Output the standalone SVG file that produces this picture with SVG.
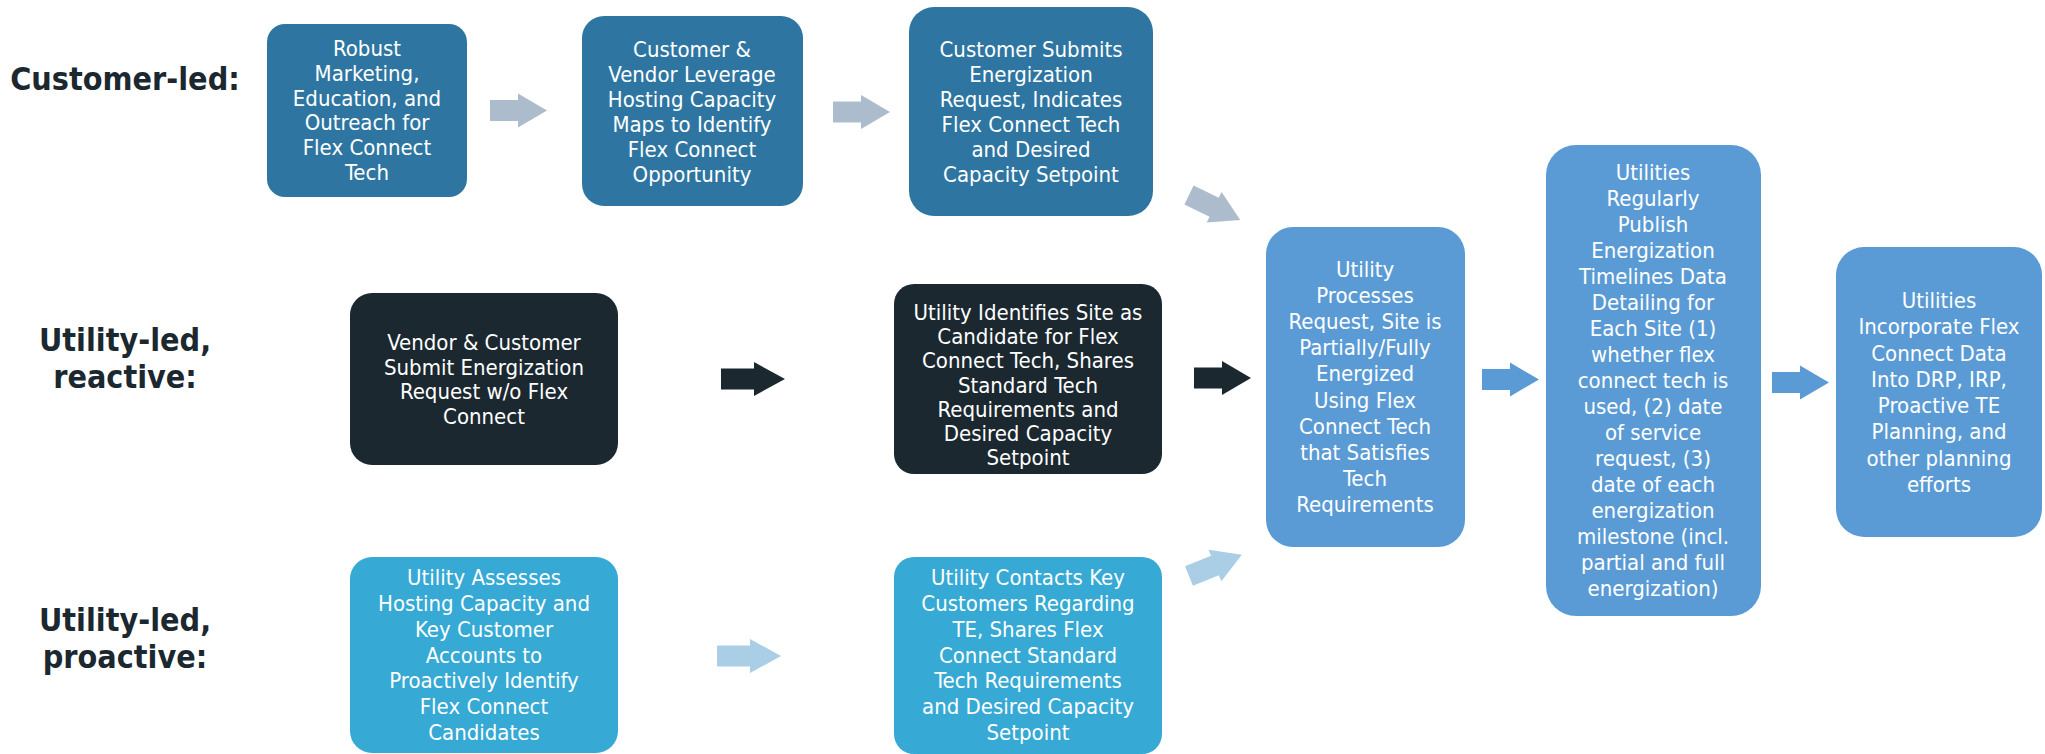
<svg xmlns="http://www.w3.org/2000/svg" width="2045" height="754" viewBox="0 0 2045 754">
<defs>
<style>
.t{font-family:"DejaVu Sans Condensed","DejaVu Sans",sans-serif;font-stretch:condensed;font-size:22px;fill:#ffffff;text-anchor:middle}
.lbl{font-family:"DejaVu Sans Condensed","DejaVu Sans",sans-serif;font-stretch:condensed;font-weight:bold;font-size:32px;fill:#1b2830;text-anchor:middle}
.c1{fill:#2e76a1}
.c2{fill:#5b9bd5}
.c3{fill:#1b2830}
.c4{fill:#36a9d5}
.ag{fill:#acbccd}
.al{fill:#a9cee6}
.ad{fill:#1b2830}
.ab{fill:#5b9bd5}
</style>
<path id="arr" d="M0,-10.5 H28 V-17 L57,0 L28,17 V10.5 H0 Z"/>
<path id="arrL" d="M0,-10.5 H33 V-17 L64,0 L33,17 V10.5 H0 Z"/>
</defs>
<g id="labels">
<text class="lbl" x="125" y="90">Customer-led:</text>
<text class="lbl" x="125" y="351">Utility-led,</text>
<text class="lbl" x="125" y="388">reactive:</text>
<text class="lbl" x="125" y="631">Utility-led,</text>
<text class="lbl" x="125" y="668">proactive:</text>
</g>
<g id="connectors">
<use href="#arr" class="ag" x="490" y="110.5"/>
<use href="#arr" class="ag" x="833" y="112"/>
<use href="#arr" class="ag" transform="translate(1189,195) rotate(26)"/>
<use href="#arrL" class="ad" x="721" y="379"/>
<use href="#arr" class="ad" x="1194" y="378"/>
<use href="#arrL" class="al" x="717" y="656"/>
<use href="#arr" class="al" transform="translate(1189,576) rotate(-22)"/>
<use href="#arr" class="ab" x="1482" y="379.5"/>
<use href="#arr" class="ab" x="1772" y="382.5"/>
</g>
<g id="n1">
<rect class="c1" x="267" y="24" width="200" height="173" rx="18"/>
<text class="t"><tspan x="367" y="56">Robust</tspan><tspan x="367" y="81">Marketing,</tspan><tspan x="367" y="106">Education, and</tspan><tspan x="367" y="130">Outreach for</tspan><tspan x="367" y="155">Flex Connect</tspan><tspan x="367" y="180">Tech</tspan></text>
</g>
<g id="n2">
<rect class="c1" x="582" y="16" width="221" height="190" rx="22"/>
<text class="t"><tspan x="692" y="57">Customer &amp;</tspan><tspan x="692" y="82">Vendor Leverage</tspan><tspan x="692" y="107">Hosting Capacity</tspan><tspan x="692" y="132">Maps to Identify</tspan><tspan x="692" y="157">Flex Connect</tspan><tspan x="692" y="182">Opportunity</tspan></text>
</g>
<g id="n3">
<rect class="c1" x="909" y="7" width="244" height="209" rx="25"/>
<text class="t"><tspan x="1031" y="57">Customer Submits</tspan><tspan x="1031" y="82">Energization</tspan><tspan x="1031" y="107">Request, Indicates</tspan><tspan x="1031" y="132">Flex Connect Tech</tspan><tspan x="1031" y="157">and Desired</tspan><tspan x="1031" y="182">Capacity Setpoint</tspan></text>
</g>
<g id="n4">
<rect class="c2" x="1266" y="227" width="199" height="320" rx="27"/>
<text class="t"><tspan x="1365" y="277">Utility</tspan><tspan x="1365" y="303">Processes</tspan><tspan x="1365" y="329">Request, Site is</tspan><tspan x="1365" y="355">Partially/Fully</tspan><tspan x="1365" y="381">Energized</tspan><tspan x="1365" y="408">Using Flex</tspan><tspan x="1365" y="434">Connect Tech</tspan><tspan x="1365" y="460">that Satisfies</tspan><tspan x="1365" y="486">Tech</tspan><tspan x="1365" y="512">Requirements</tspan></text>
</g>
<g id="n5">
<rect class="c2" x="1546" y="145" width="215" height="471" rx="30"/>
<text class="t"><tspan x="1653" y="180">Utilities</tspan><tspan x="1653" y="206">Regularly</tspan><tspan x="1653" y="232">Publish</tspan><tspan x="1653" y="258">Energization</tspan><tspan x="1653" y="284">Timelines Data</tspan><tspan x="1653" y="310">Detailing for</tspan><tspan x="1653" y="336">Each Site (1)</tspan><tspan x="1653" y="362">whether flex</tspan><tspan x="1653" y="388">connect tech is</tspan><tspan x="1653" y="414">used, (2) date</tspan><tspan x="1653" y="440">of service</tspan><tspan x="1653" y="466">request, (3)</tspan><tspan x="1653" y="492">date of each</tspan><tspan x="1653" y="518">energization</tspan><tspan x="1653" y="544">milestone (incl.</tspan><tspan x="1653" y="570">partial and full</tspan><tspan x="1653" y="596">energization)</tspan></text>
</g>
<g id="n6">
<rect class="c2" x="1836" y="247" width="206" height="290" rx="28"/>
<text class="t"><tspan x="1939" y="308">Utilities</tspan><tspan x="1939" y="334">Incorporate Flex</tspan><tspan x="1939" y="361">Connect Data</tspan><tspan x="1939" y="387">Into DRP, IRP,</tspan><tspan x="1939" y="413">Proactive TE</tspan><tspan x="1939" y="439">Planning, and</tspan><tspan x="1939" y="466">other planning</tspan><tspan x="1939" y="492">efforts</tspan></text>
</g>
<g id="n7">
<rect class="c3" x="350" y="293" width="268" height="172" rx="22"/>
<text class="t"><tspan x="484" y="350">Vendor &amp; Customer</tspan><tspan x="484" y="375">Submit Energization</tspan><tspan x="484" y="399">Request w/o Flex</tspan><tspan x="484" y="424">Connect</tspan></text>
</g>
<g id="n8">
<rect class="c3" x="894" y="284" width="268" height="190" rx="20"/>
<text class="t"><tspan x="1028" y="320">Utility Identifies Site as</tspan><tspan x="1028" y="344">Candidate for Flex</tspan><tspan x="1028" y="368">Connect Tech, Shares</tspan><tspan x="1028" y="393">Standard Tech</tspan><tspan x="1028" y="417">Requirements and</tspan><tspan x="1028" y="441">Desired Capacity</tspan><tspan x="1028" y="465">Setpoint</tspan></text>
</g>
<g id="n9">
<rect class="c4" x="350" y="557" width="268" height="196" rx="22"/>
<text class="t"><tspan x="484" y="585">Utility Assesses</tspan><tspan x="484" y="611">Hosting Capacity and</tspan><tspan x="484" y="637">Key Customer</tspan><tspan x="484" y="663">Accounts to</tspan><tspan x="484" y="688">Proactively Identify</tspan><tspan x="484" y="714">Flex Connect</tspan><tspan x="484" y="740">Candidates</tspan></text>
</g>
<g id="n10">
<rect class="c4" x="894" y="557" width="268" height="197" rx="20"/>
<text class="t"><tspan x="1028" y="585">Utility Contacts Key</tspan><tspan x="1028" y="611">Customers Regarding</tspan><tspan x="1028" y="637">TE, Shares Flex</tspan><tspan x="1028" y="663">Connect Standard</tspan><tspan x="1028" y="688">Tech Requirements</tspan><tspan x="1028" y="714">and Desired Capacity</tspan><tspan x="1028" y="740">Setpoint</tspan></text>
</g>
</svg>
